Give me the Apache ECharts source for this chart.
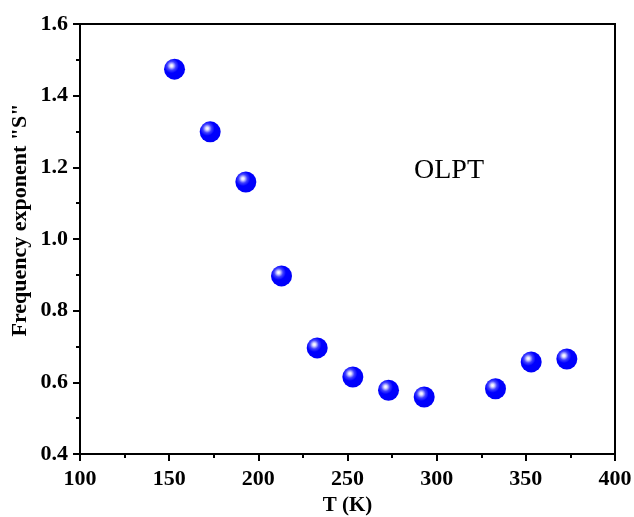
<!DOCTYPE html>
<html>
<head>
<meta charset="utf-8">
<script src="https://cdn.jsdelivr.net/npm/echarts@6/dist/echarts.min.js"></script>
<style>html,body{margin:0;padding:0;background:#fff;}#c{width:634px;height:517px;}</style>
</head>
<body>
<div id="c"></div>
<script>
var temperatures = [153, 173, 193, 213, 233, 253, 273, 293, 333, 353, 373];
var sValues = [1.474, 1.299, 1.159, 0.897, 0.696, 0.615, 0.578, 0.559, 0.582, 0.657, 0.665];
var xTitle = 'T (K)';
var yTitle = 'Frequency exponent "S"';
var annotation = 'OLPT';

var points = temperatures.map(function (t, i) { return [t, sValues[i]]; });
var font = '"Liberation Serif", "Times New Roman", serif';
var chart = echarts.init(document.getElementById('c'), null, {renderer: 'canvas'});
chart.setOption({
  animation: false,
  backgroundColor: '#fff',
  grid: {left: 80, right: 19, top: 24, bottom: 63, containLabel: false, outerBoundsMode: 'none',
    show: true, borderColor: '#000', borderWidth: 2, backgroundColor: 'transparent'},
  xAxis: {
    type: 'value', min: 100, max: 400, interval: 50,
    name: xTitle, nameLocation: 'middle', nameGap: 41,
    nameTextStyle: {fontFamily: font, fontWeight: 'bold', fontSize: 21, color: '#000'},
    axisLine: {show: true, lineStyle: {color: '#000', width: 2}},
    axisTick: {show: true, inside: false, length: 7, lineStyle: {color: '#000', width: 2}},
    minorTick: {show: true, splitNumber: 2, length: 4, lineStyle: {color: '#000', width: 2}},
    axisLabel: {fontFamily: font, fontWeight: 'bold', fontSize: 22, color: '#000', margin: 14},
    splitLine: {show: false}
  },
  yAxis: {
    type: 'value', min: 0.4, max: 1.6, interval: 0.2,
    axisLine: {show: true, lineStyle: {color: '#000', width: 2}},
    axisTick: {show: true, inside: false, length: 7, lineStyle: {color: '#000', width: 2}},
    minorTick: {show: true, splitNumber: 2, length: 4, lineStyle: {color: '#000', width: 2}},
    axisLabel: {fontFamily: font, fontWeight: 'bold', fontSize: 22, color: '#000', margin: 12,
      formatter: function (v) { return v.toFixed(1); }},
    splitLine: {show: false}
  },
  graphic: [{
    type: 'text', x: 20, y: 220, rotation: Math.PI / 2,
    style: {text: yTitle, fontFamily: font, fontWeight: 'bold', fontSize: 22, fill: '#000',
      textAlign: 'center', textVerticalAlign: 'middle'}
  }, {
    type: 'text', x: 414, y: 171,
    style: {text: annotation, fontFamily: font, fontSize: 28, fill: '#000', textAlign: 'left', textVerticalAlign: 'middle'}
  }],
  series: [{
    type: 'scatter',
    data: points,
    symbol: 'circle',
    symbolSize: 21,
    itemStyle: {
      opacity: 1,
      color: new echarts.graphic.RadialGradient(0.36, 0.34, 0.7, [
        {offset: 0, color: '#ffffff'},
        {offset: 0.1, color: '#e0e0ff'},
        {offset: 0.3, color: '#4040ff'},
        {offset: 0.5, color: '#0000ff'},
        {offset: 1, color: '#0000f8'}
      ])
    }
  }]
});
</script>
</body>
</html>
